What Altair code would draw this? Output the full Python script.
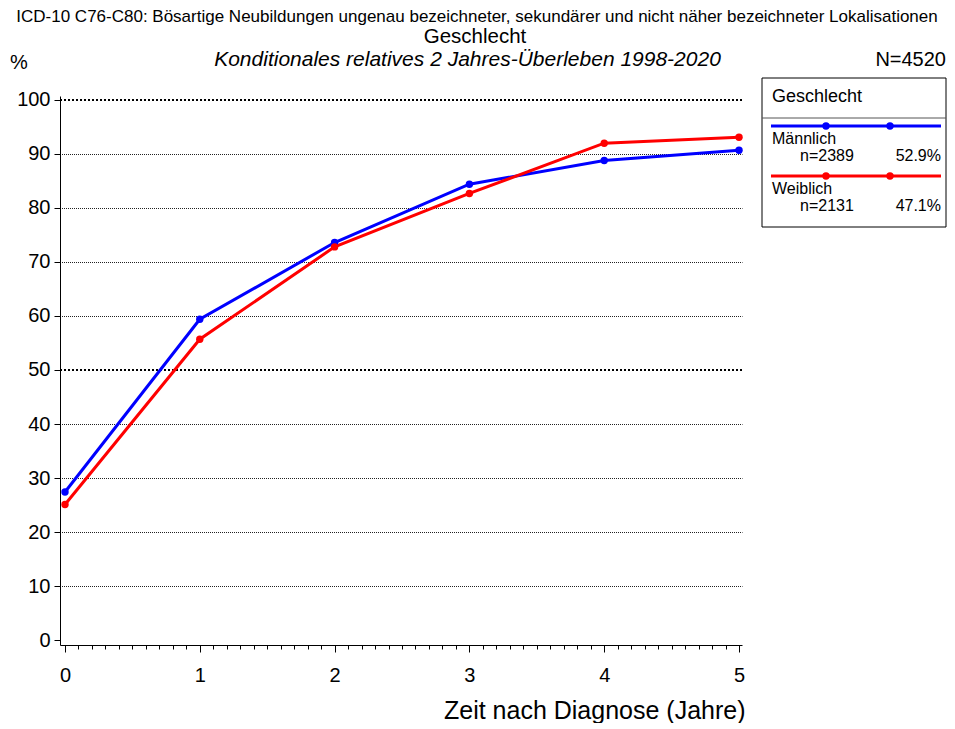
import altair as alt
import pandas as pd

# ---------------- data ----------------
years = [0, 1, 2, 3, 4, 5]
male = [27.4, 59.4, 73.6, 84.4, 88.8, 90.7]
female = [25.1, 55.7, 72.8, 82.7, 92.0, 93.1]
groups = ["Männlich", "Weiblich"]
group_n = ["n=2389", "n=2131"]
group_pct = ["52.9%", "47.1%"]
colors = ["#0000ff", "#ff0000"]
y_ticks = list(range(0, 101, 5))
x_ticks = [round(i * 0.1, 1) for i in range(51)]
major_grid = [50, 100]

title_line1 = ("ICD-10 C76-C80: Bösartige Neubildungen ungenau bezeichneter, "
               "sekundärer und nicht näher bezeichneter Lokalisationen")
title_line2 = "Geschlecht"
subtitle = "Konditionales relatives 2 Jahres-Überleben 1998-2020"
total_n = "N=4520"
y_unit = "%"
x_title = "Zeit nach Diagnose (Jahre)"
legend_title = "Geschlecht"

FONT = "Liberation Sans, Arial, sans-serif"

rows = []
for g, vals in zip(groups, [male, female]):
    for yr, v in zip(years, vals):
        rows.append({"year": yr, "value": v, "sex": g})
df = pd.DataFrame(rows)
one = pd.DataFrame({"d": [0]})
grid_df = pd.DataFrame({"g": major_grid})

x_scale = alt.Scale(domain=[-0.0371, 5.0222], nice=False, zero=False)
y_scale = alt.Scale(domain=[-0.9259, 100.7407], nice=False, zero=False)
color_scale = alt.Scale(domain=groups, range=colors)

is_int = "abs(datum.value - round(datum.value)) < 0.001"
x_axis = alt.Axis(
    values=x_ticks,
    labelExpr=f"{is_int} ? format(datum.value, 'd') : ''",
    tickSize={"condition": {"test": is_int, "value": 7}, "value": 4},
    tickColor="black", domainColor="black", labelColor="black",
    labelFont=FONT, labelFontSize=20, labelPadding=13,
    labelFlush=False, labelOverlap=False, grid=False,
    title=x_title, titleFont=FONT, titleFontSize=25, titleFontWeight="normal",
    titleColor="black", titleAlign="right", titleX=685, titleY=73,
    titleBaseline="alphabetic",
)
thin_test = "datum.value % 10 === 0 && datum.value > 0 && datum.value % 50 !== 0"
y_axis = alt.Axis(
    values=y_ticks,
    labelExpr="datum.value % 10 === 0 ? datum.label : ''",
    tickSize={"condition": {"test": "datum.value % 10 === 0", "value": 6}, "value": 4},
    tickColor="black", domainColor="black", labelColor="black",
    labelFont=FONT, labelFontSize=20, labelPadding=4,
    labelOverlap=False, labelFlush=False,
    grid=True, gridColor="#222222", gridWidth=1, gridDash=[1, 1], gridDashOffset=0.5,
    gridOpacity={"condition": {"test": thin_test, "value": 1}, "value": 0},
    title=None,
)

base = alt.Chart(df).encode(
    x=alt.X("year:Q", scale=x_scale, axis=x_axis),
    y=alt.Y("value:Q", scale=y_scale, axis=y_axis),
    color=alt.Color("sex:N", scale=color_scale, legend=None),
)
major_rules = alt.Chart(grid_df).mark_rule(
    color="black", strokeWidth=2, strokeDash=[2, 2]
).encode(y=alt.Y("g:Q", scale=y_scale))
lines = base.mark_line(strokeWidth=3)
points = base.mark_circle(size=55, opacity=1)


def txt(text, x, y, size, align="left", style="normal"):
    return alt.Chart(one).mark_text(
        text=text, align=align, baseline="alphabetic", fontSize=size,
        font=FONT, fontStyle=style, color="black"
    ).encode(x=alt.value(x), y=alt.value(y))


layers = [major_rules, lines, points,
          txt(title_line1, 417, -74, 17, "center"),
          txt(title_line2, 415, -52.7, 20.5, "center"),
          txt(subtitle, 407.5, -30, 21, "center", "italic"),
          txt(total_n, 886, -30, 20, "right"),
          txt(y_unit, -50, -27, 20, "left")]

# legend box
layers.append(alt.Chart(one).mark_rect(fill="white", stroke="black", strokeWidth=1).encode(
    x=alt.value(702), x2=alt.value(886), y=alt.value(-18), y2=alt.value(131)))
layers.append(alt.Chart(one).mark_rule(color="#555555", strokeWidth=1).encode(
    x=alt.value(702), x2=alt.value(886), y=alt.value(22)))
layers.append(txt(legend_title, 712, 6, 18))
for i, (g, n, p, c) in enumerate(zip(groups, group_n, group_pct, colors)):
    ly = 30 + 50 * i
    layers.append(alt.Chart(one).mark_rule(color=c, strokeWidth=3).encode(
        x=alt.value(711), x2=alt.value(881), y=alt.value(ly)))
    for px in (766, 830):
        layers.append(alt.Chart(one).mark_circle(color=c, size=55, opacity=1).encode(
            x=alt.value(px), y=alt.value(ly)))
    layers.append(txt(g, 712, ly + 18, 16))
    layers.append(txt(n, 740, ly + 35, 16))
    layers.append(txt(p, 881, ly + 35, 16, "right"))

chart = alt.layer(*layers).properties(
    width=682, height=549,
    autosize=alt.AutoSizeParams(type="none"),
    padding={"left": 52, "top": 88, "right": 205, "bottom": 78},
    background="white",
).configure_view(stroke=None)

chart.save("out.html", embed_options={"renderer": "svg", "actions": False})
